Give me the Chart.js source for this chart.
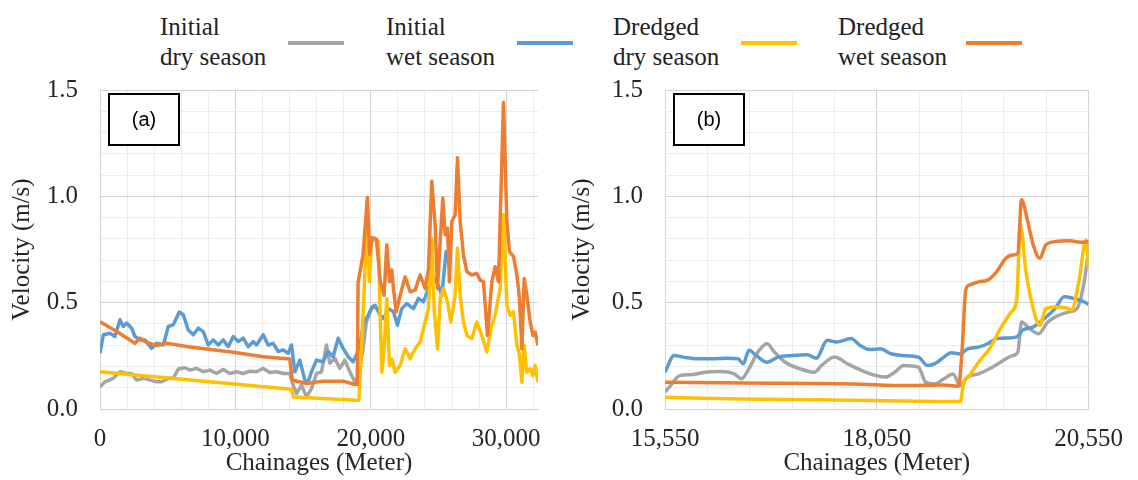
<!DOCTYPE html>
<html>
<head>
<meta charset="utf-8">
<script src="https://cdn.jsdelivr.net/npm/chart.js"></script>
<title>Velocity along chainages</title>
<style>
  body { margin: 0; background: #fff; }
  #page { position: relative; width: 1138px; height: 480px; overflow: hidden; font-family: "Liberation Serif", "Times New Roman", "DejaVu Serif", serif; color: #222; }
  .panel { position: absolute; top: 70px; height: 410px; }
  .panel canvas { display: block; }
  .leg-text { position: absolute; top: 12px; font-size: 25px; line-height: 30px; white-space: nowrap; }
  .leg-line { position: absolute; top: 41px; height: 4px; width: 56px; }
</style>
</head>
<body>
<div id="page">
  <div id="legend"></div>
  <div class="panel" style="left:0;width:560px"><canvas id="chartA" width="560" height="410"></canvas></div>
  <div class="panel" style="left:560px;width:578px"><canvas id="chartB" width="578" height="410"></canvas></div>
</div>
<script>
// series names and colours (legend order)
const seriesNames = [['Initial', 'dry season'], ['Initial', 'wet season'], ['Dredged', 'dry season'], ['Dredged', 'wet season']];
const seriesColors = ['#A5A5A5', '#5B9BD5', '#FFC000', '#ED7D31'];

// panel (a) : [chainage m, velocity m/s]
const aInitialDry = [[0,0.104],[369,0.128],[984,0.144],[1476,0.175],[1968,0.167],[2337,0.167],[2706,0.136],[3198,0.144],[3690,0.136],[4182,0.128],[4551,0.128],[5043,0.144],[5412,0.144],[5781,0.188],[6273,0.194],[6642,0.183],[7134,0.191],[7626,0.175],[8118,0.183],[8610,0.167],[9102,0.186],[9594,0.167],[10086,0.175],[10578,0.167],[11070,0.178],[11562,0.175],[12054,0.191],[12546,0.172],[13038,0.175],[13530,0.167],[14022,0.167],[14268,0.112],[14514,0.073],[14883,0.112],[15252,0.057],[15621,0.096],[15990,0.167],[16359,0.175],[16728,0.301],[16974,0.215],[17343,0.238],[17712,0.191],[18081,0.23],[18450,0.175],[18819,0.128],[19065,0.151],[19430,0.285],[19680,0.41],[20050,0.474],[20400,0.48]];
const aInitialWet = [[0,0.262],[246,0.349],[738,0.356],[1107,0.341],[1476,0.42],[1722,0.388],[1968,0.404],[2337,0.38],[2583,0.341],[2952,0.325],[3321,0.325],[3813,0.285],[4182,0.309],[4674,0.301],[5043,0.388],[5412,0.396],[5855,0.456],[6150,0.443],[6519,0.372],[6888,0.349],[7257,0.38],[7626,0.364],[7995,0.301],[8364,0.325],[8733,0.301],[9102,0.325],[9471,0.293],[9840,0.341],[10209,0.317],[10578,0.333],[10947,0.293],[11316,0.317],[11562,0.301],[12054,0.349],[12423,0.301],[12792,0.309],[13161,0.27],[13530,0.278],[13899,0.262],[14145,0.301],[14391,0.175],[14760,0.23],[15129,0.136],[15375,0.128],[15621,0.175],[15990,0.23],[16482,0.222],[16851,0.27],[17220,0.246],[17589,0.333],[17958,0.285],[18327,0.246],[18696,0.222],[18942,0.254],[19185,0.30],[19450,0.40],[19800,0.44],[20100,0.48],[20320,0.488],[20690,0.441],[20935,0.425],[21305,0.472],[21675,0.457],[21970,0.394],[22290,0.472],[22660,0.496],[23150,0.472],[23520,0.52],[23890,0.504],[24260,0.567],[24505,0.63],[24875,0.598],[25245,0.535],[25565,0.74],[25665,0.709]];
const aDredgedDry = [[0,0.175],[14145,0.093],[14270,0.057],[18940,0.041],[19110,0.041],[19200,0.13],[19430,0.443],[19725,0.869],[19900,0.598],[20050,0.79],[20320,0.803],[20565,0.787],[20690,0.441],[20815,0.173],[20985,0.283],[21180,0.52],[21380,0.205],[21550,0.236],[21800,0.173],[22170,0.205],[22540,0.283],[22905,0.236],[23275,0.283],[23645,0.315],[24015,0.409],[24260,0.472],[24505,0.803],[24680,0.472],[24925,0.283],[25125,0.52],[25370,0.567],[25665,0.504],[25910,0.409],[26230,0.535],[26405,0.756],[26600,0.535],[26845,0.409],[27095,0.346],[27460,0.331],[27830,0.409],[28200,0.346],[28570,0.268],[28940,0.394],[29185,0.441],[29555,0.567],[29800,0.913],[30050,0.488],[30295,0.441],[30540,0.457],[30790,0.299],[30985,0.252],[31160,0.126],[31330,0.299],[31525,0.173],[31775,0.189],[31970,0.157],[32140,0.205],[32350,0.126]];
const aDredgedWet = [[0,0.41],[1230,0.364],[2583,0.309],[2950,0.333],[3320,0.317],[4180,0.298],[4920,0.309],[6640,0.292],[9840,0.267],[12050,0.246],[14020,0.235],[14190,0.136],[15250,0.12],[16480,0.131],[17960,0.131],[18820,0.115],[19000,0.115],[19063,0.593],[19430,0.727],[19750,0.995],[19920,0.727],[20120,0.806],[20420,0.798],[20700,0.6],[20985,0.535],[21180,0.772],[21380,0.598],[21550,0.654],[21675,0.567],[21870,0.457],[22170,0.535],[22540,0.622],[22905,0.551],[23275,0.559],[23645,0.63],[24015,0.567],[24260,0.661],[24505,1.071],[24755,0.866],[24925,0.567],[25125,0.787],[25320,0.992],[25490,0.819],[25665,0.85],[25810,0.598],[25985,0.882],[26230,0.913],[26405,1.181],[26600,0.882],[26845,0.724],[27095,0.646],[27460,0.63],[27830,0.638],[28080,0.606],[28325,0.598],[28620,0.346],[28940,0.598],[29185,0.669],[29435,0.598],[29555,0.882],[29800,1.441],[30050,0.882],[30245,0.74],[30540,0.717],[30790,0.63],[30985,0.52],[31160,0.283],[31330,0.614],[31525,0.535],[31775,0.409],[31970,0.346],[32140,0.362],[32350,0.299]];

// panel (b)
const bInitialDry = [[15550,0.079],[15615,0.11],[15722,0.157],[15851,0.161],[16023,0.173],[16195,0.176],[16368,0.165],[16454,0.142],[16540,0.189],[16647,0.268],[16755,0.307],[16841,0.268],[16970,0.22],[17142,0.189],[17314,0.173],[17400,0.205],[17551,0.244],[17702,0.213],[17874,0.181],[18046,0.157],[18153,0.15],[18261,0.173],[18368,0.205],[18541,0.197],[18627,0.126],[18734,0.118],[18842,0.142],[18949,0.165],[19035,0.11],[19121,0.15],[19251,0.165],[19380,0.189],[19509,0.22],[19659,0.252],[19715,0.268],[19758,0.409],[19853,0.378],[19960,0.354],[20068,0.409],[20197,0.441],[20326,0.457],[20412,0.472],[20498,0.598],[20550,0.75]];
const bInitialWet = [[15550,0.173],[15658,0.252],[15765,0.244],[15937,0.236],[16109,0.236],[16282,0.239],[16411,0.236],[16475,0.213],[16540,0.276],[16626,0.252],[16755,0.22],[16884,0.244],[17056,0.252],[17228,0.255],[17336,0.239],[17465,0.323],[17573,0.315],[17745,0.331],[17852,0.299],[17960,0.28],[18089,0.283],[18218,0.26],[18347,0.252],[18541,0.244],[18648,0.205],[18734,0.213],[18842,0.244],[18928,0.265],[19035,0.26],[19121,0.283],[19251,0.291],[19358,0.307],[19466,0.331],[19595,0.334],[19702,0.339],[19767,0.37],[19896,0.386],[20025,0.425],[20154,0.472],[20262,0.528],[20369,0.52],[20498,0.504],[20550,0.491]];
const bDredgedDry = [[15550,0.055],[16454,0.047],[17314,0.044],[18153,0.039],[19035,0.035],[19078,0.126],[19143,0.157],[19251,0.22],[19380,0.283],[19509,0.378],[19638,0.457],[19702,0.52],[19745,0.866],[19810,0.646],[19896,0.472],[19973,0.394],[20046,0.472],[20154,0.48],[20283,0.476],[20348,0.465],[20434,0.598],[20520,0.795],[20550,0.661]];
const bDredgedWet = [[15550,0.126],[16500,0.122],[17745,0.118],[18400,0.11],[18820,0.113],[19014,0.107],[19057,0.28],[19100,0.56],[19143,0.583],[19251,0.598],[19358,0.606],[19466,0.646],[19573,0.709],[19659,0.724],[19715,0.732],[19758,0.984],[19831,0.882],[19896,0.772],[19973,0.709],[20046,0.772],[20154,0.787],[20326,0.791],[20455,0.784],[20550,0.787]];

// axis ticks
const yTicks = [0, 0.1, 0.2, 0.3, 0.4, 0.5, 0.6, 0.7, 0.8, 0.9, 1.0, 1.1, 1.2, 1.3, 1.4, 1.5];
const yMajor = [0, 0.5, 1.0, 1.5];
const aXTicks = [0, 2000, 4000, 6000, 8000, 10000, 12000, 14000, 16000, 18000, 20000, 22000, 24000, 26000, 28000, 30000, 32000];
const aXMajor = [0, 10000, 20000, 30000];
const bXTicks = [15550, 16050, 16550, 17050, 17550, 18050, 18550, 19050, 19550, 20050, 20550];
const bXMajor = [15550, 18050, 20550];

const serif = '"Liberation Serif", "Times New Roman", "DejaVu Serif", serif';

// legend (html, above both panels)
const legendTextLeft = [160, 386, 613, 838];
const legendLineLeft = [288, 517, 741, 966];
const legend = document.getElementById('legend');
seriesNames.forEach((name, i) => {
  const t = document.createElement('div');
  t.className = 'leg-text';
  t.style.left = legendTextLeft[i] + 'px';
  t.innerHTML = name[0] + '<br>' + name[1];
  legend.appendChild(t);
  const l = document.createElement('div');
  l.className = 'leg-line';
  l.style.left = legendLineLeft[i] + 'px';
  l.style.background = seriesColors[i];
  legend.appendChild(l);
});

Chart.defaults.font.family = serif;
Chart.defaults.color = '#262626';

const isIn = (list, v) => list.some(m => Math.abs(m - v) < 1e-6);

// the boxed "(a)" / "(b)" tag in the corner of the plot
const panelTag = {
  id: 'panelTag',
  beforeDatasetsDraw(chart, args, opts) {
    const { ctx, chartArea } = chart;
    const x = chartArea.left + 9, y = chartArea.top + 4;
    ctx.save();
    ctx.fillStyle = '#fff';
    ctx.fillRect(x, y, 70, 51);
    ctx.lineWidth = 2;
    ctx.strokeStyle = '#000';
    ctx.strokeRect(x, y, 70, 51);
    ctx.fillStyle = '#000';
    ctx.font = '20px "Liberation Sans", Arial, sans-serif';
    ctx.textAlign = 'center';
    ctx.textBaseline = 'middle';
    ctx.fillText(opts.text, x + 35, y + 26);
    ctx.restore();
  }
};

function makeChart(id, series, xMin, xMax, xTicks, xMajor, yWidth, padRight, tag, smooth) {
  const datasets = series.map((pts, i) => ({
    label: seriesNames[i].join(' '),
    data: pts.map(p => ({ x: p[0], y: p[1] })),
    borderColor: seriesColors[i],
    borderWidth: 3.5,
    borderJoinStyle: 'round',
    pointRadius: 0,
    fill: false,
    cubicInterpolationMode: smooth ? 'monotone' : 'default',
    order: 4 - i
  }));
  return new Chart(document.getElementById(id), {
    type: 'line',
    data: { datasets },
    plugins: [panelTag],
    options: {
      responsive: false,
      animation: false,
      devicePixelRatio: 1,
      layout: { padding: { top: 20, right: padRight, left: 0, bottom: 0 } },
      plugins: {
        legend: { display: false },
        tooltip: { enabled: false },
        panelTag: { text: tag }
      },
      scales: {
        x: {
          type: 'linear',
          min: xMin,
          max: xMax,
          afterBuildTicks: s => { s.ticks = xTicks.map(v => ({ value: v })); },
          afterFit: s => { s.height = 71; },
          grid: { color: c => isIn(xMajor, c.tick.value) ? '#d4d4d4' : '#ececec', drawTicks: false },
          border: { color: '#d4d4d4' },
          ticks: {
            autoSkip: false, maxRotation: 0, padding: 15,
            font: { family: serif, size: 25 },
            callback: v => isIn(xMajor, v) ? v.toLocaleString('en-US') : ''
          },
          title: { display: true, text: 'Chainages (Meter)', font: { family: serif, size: 25 }, padding: { top: 0, bottom: 2 } }
        },
        y: {
          min: 0,
          max: 1.5,
          afterBuildTicks: s => { s.ticks = yTicks.map(v => ({ value: v })); },
          afterFit: s => { s.width = yWidth; s.paddingTop = 0; s.paddingBottom = 0; },
          grid: { color: c => isIn(yMajor, c.tick.value) ? '#d4d4d4' : '#ececec', drawTicks: false },
          border: { color: '#d4d4d4' },
          ticks: {
            autoSkip: false, padding: 22,
            font: { family: serif, size: 25 },
            callback: v => isIn(yMajor, v) ? v.toFixed(1) : ''
          },
          title: { display: true, text: 'Velocity (m/s)', font: { family: serif, size: 25 }, padding: { top: 7, bottom: 0 } }
        }
      }
    }
  });
}

makeChart('chartA', [aInitialDry, aInitialWet, aDredgedDry, aDredgedWet], 0, 32350, aXTicks, aXMajor, 100, 22, '(a)', false);
makeChart('chartB', [bInitialDry, bInitialWet, bDredgedDry, bDredgedWet], 15550, 20550, bXTicks, bXMajor, 105, 42, '(b)', true);
</script>
</body>
</html>
